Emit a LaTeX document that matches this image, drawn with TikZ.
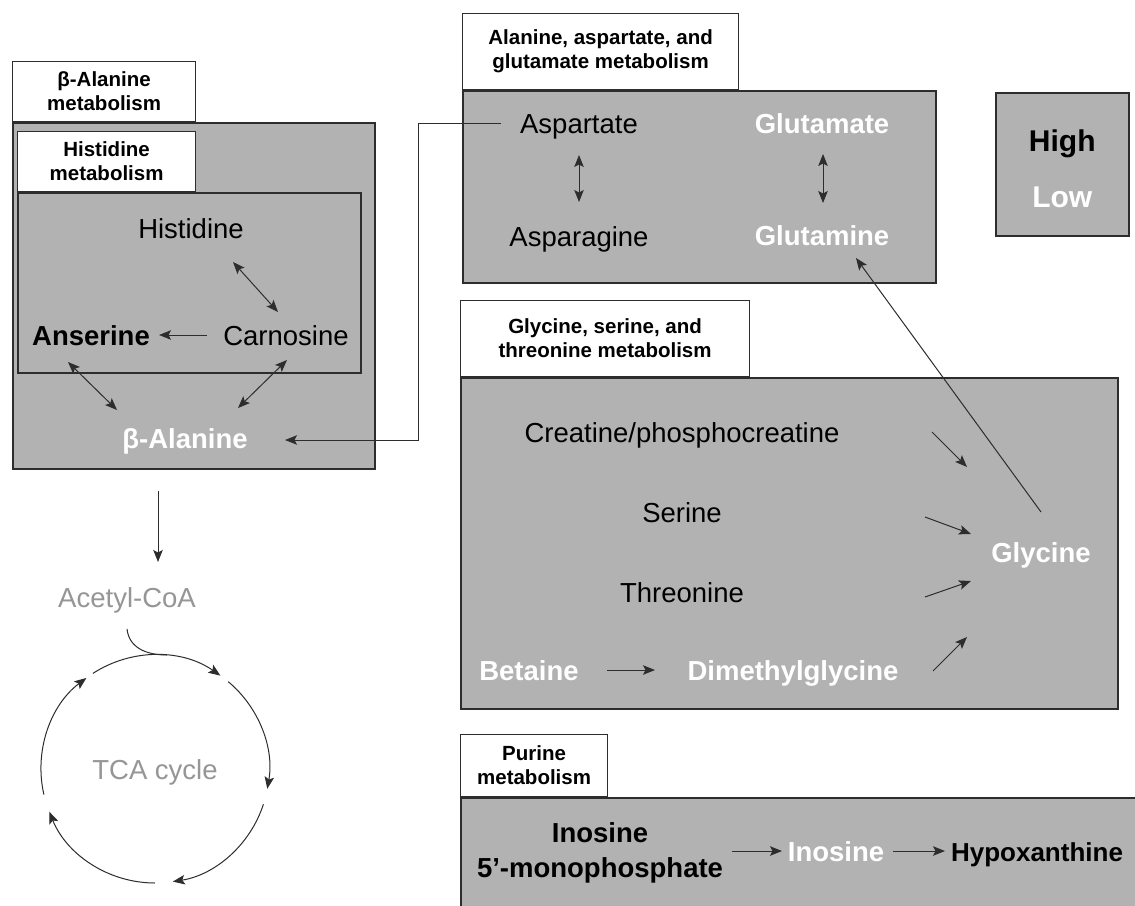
\documentclass[tikz,border=0pt]{standalone}
\usepackage{fontspec}
\setmainfont{Liberation Sans}
\usetikzlibrary{arrows.meta,positioning,calc}

\definecolor{panelgray}{RGB}{178,178,178}
\definecolor{fadegray}{RGB}{150,150,150}
\definecolor{linegray}{RGB}{45,45,45}

\begin{document}
\begin{tikzpicture}[x=1pt, y=-1pt, node distance = 80pt]

\tikzstyle{panel} = [rectangle, draw=linegray, line width=1.5pt, fill=panelgray, inner sep=0pt, anchor=north west]
\tikzstyle{tag} = [rectangle, draw=linegray, line width=1.2pt, fill=white, inner sep=0pt, anchor=south west, align=center, font=\bfseries\fontsize{20.5}{24.5}\selectfont]
\tikzstyle{met} = [inner sep=0pt, text height=20pt, text depth=0pt, font=\fontsize{27.5}{32}\selectfont]
\tikzstyle{upreg} = [met, font=\bfseries\fontsize{27.5}{32}\selectfont]
\tikzstyle{downreg} = [upreg, text=white]
\tikzstyle{faded} = [met, text=fadegray]
\tikzstyle{keytxt} = [inner sep=0pt, text height=22pt, text depth=0pt, font=\bfseries\fontsize{30}{34}\selectfont]
\tikzstyle{arrow} = [line width=1pt, draw=linegray, -{Stealth[length=12pt, width=9.5pt, inset=2.5pt]}]
\tikzstyle{twoway} = [arrow, {Stealth[length=12pt, width=9.5pt, inset=2.5pt]}-{Stealth[length=12pt, width=9.5pt, inset=2.5pt]}]

\fill [white] (0,0) rectangle (1135,905);
\useasboundingbox (0,0) rectangle (1135,905);

%% ------------------------------
%% -- BETA-ALANINE METABOLISM --
%% ------------------------------

\node (bala_panel) [panel, minimum width=362, minimum height=346] at (12,122) {};
\node (bala_tag) [tag, minimum width=183, minimum height=60] at (bala_panel.north west) {β-Alanine\\metabolism};

% Histidine metabolism
\node (his_panel) [panel, minimum width=343, minimum height=180] at (17,192) {};
\node (his_tag) [tag, minimum width=178, minimum height=60] at (his_panel.north west) {Histidine\\metabolism};

\node (histidine) [met] at (191,228) {Histidine};
\node (carnosine) [met] at (286,335) {Carnosine};
\node (anserine) [upreg, left of=carnosine, xshift=-115pt] {Anserine};
\node (bala) [downreg] at (185,438) {β-Alanine};

\draw [twoway] ($(histidine)+(42,34)$) -- ($(carnosine)+(-8,-23)$);
\draw [arrow] ($(carnosine)+(-79,0)$) -- ($(anserine)+(68,0)$);
\draw [twoway] ($(anserine)+(-23,27)$) -- ($(bala)+(-68,-28)$);
\draw [twoway] ($(carnosine)+(1,25)$) -- ($(bala)+(53,-30)$);

% TCA cycle
\node (acetyl) [faded] at (127,597) {Acetyl-CoA};
\node (tca) [faded] at (155,769) {TCA cycle};

\draw [arrow] ($(bala_panel.south west)+(146,21)$) -- ($(acetyl)+(31,-35)$);
\draw [line width=1pt, draw=linegray] ($(acetyl)+(0,32)$) .. controls +(2,18) and +(-22,0) .. ($(tca)+(12,-114)$);

\draw [arrow] ($(tca)+(-123:114)$) arc [start angle=-123, end angle=-55, radius=114];
\draw [arrow] ($(tca)+(-50:114)$) arc [start angle=-50, end angle=10, radius=114];
\draw [arrow] ($(tca)+(18:114)$) arc [start angle=18, end angle=81, radius=114];
\draw [arrow] ($(tca)+(90:114)$) arc [start angle=90, end angle=158, radius=114];
\draw [arrow] ($(tca)+(167:114)$) arc [start angle=167, end angle=233, radius=114];

%% ------------------------------------------
%% -- ALANINE, ASPARTATE, GLUTAMATE PANEL --
%% ------------------------------------------

\node (aag_panel) [panel, minimum width=473, minimum height=192] at (462,90) {};
\node (aag_tag) [tag, minimum width=276, minimum height=76] at (aag_panel.north west) {Alanine, aspartate, and\\glutamate metabolism};

\node (aspartate) [met] at (579,123) {Aspartate};
\node (glutamate) [downreg, right of=aspartate, xshift=163pt] {Glutamate};
\node (asparagine) [met, below of=aspartate, yshift=-33pt] {Asparagine};
\node (glutamine) [downreg, below of=glutamate, yshift=-32pt] {Glutamine};

\draw [twoway] ($(aspartate)+(0,32)$) -- ($(asparagine)+(0,-34)$);
\draw [twoway] ($(glutamate)+(1,31)$) -- ($(glutamine)+(1,-32)$);

\draw [arrow] ($(aspartate)+(-78,0)$) -- ++(-83,0) |- ($(bala)+(100,2)$);

% LEGEND
\node (legend) [panel, minimum width=133, minimum height=143] at (995,92) {};
\node (high) [keytxt] at ($(legend.center)+(0,-24)$) {High};
\node (low) [keytxt, text=white, below of=high, yshift=24pt] {Low};

%% ------------------------------------------
%% -- GLYCINE, SERINE, THREONINE PANEL --
%% ------------------------------------------

\node (gst_panel) [panel, minimum width=657, minimum height=331] at (460,377) {};
\node (gst_tag) [tag, minimum width=289, minimum height=76] at (gst_panel.north west) {Glycine, serine, and\\threonine metabolism};

\node (creatine) [met] at (682,432) {Creatine/phosphocreatine};
\node (serine) [met, below of=creatine] {Serine};
\node (threonine) [met, below of=serine] {Threonine};
\node (betaine) [downreg] at (529,670) {Betaine};
\node (dmg) [downreg, right of=betaine, xshift=184pt] {Dimethylglycine};
\node (glycine) [downreg] at (1041,552) {Glycine};

\draw [arrow] ($(betaine)+(78,0)$) -- ($(dmg)+(-138,0)$);
\draw [arrow] ($(creatine)+(250,0)$) -- ($(glycine)+(-74,-85)$);
\draw [arrow] ($(serine)+(243,5)$) -- ($(glycine)+(-70,-18)$);
\draw [arrow] ($(threonine)+(243,5)$) -- ($(glycine)+(-70,29)$);
\draw [arrow] ($(dmg)+(140,1)$) -- ($(glycine)+(-74,85)$);

\draw [arrow] ($(glycine)+(0,-40)$) -- ($(glutamine)+(34,23)$);

%% ----------------------
%% -- PURINE METABOLISM --
%% ----------------------

\node (pur_panel) [panel, minimum width=690, minimum height=120] at (460,797) {};
\node (pur_tag) [tag, minimum width=147, minimum height=62] at (pur_panel.north west) {Purine\\metabolism};

\node (imp) [align=center, inner sep=0pt, font=\bfseries\fontsize{27.5}{35}\selectfont] at (600,853) {Inosine\\5’-monophosphate};
\node (inosine) [downreg] at (836,851) {Inosine};
\node (hypox) [upreg, font=\bfseries\fontsize{26}{30}\selectfont] at (1037,851) {Hypoxanthine};

\draw [arrow] ($(imp)+(132,-2)$) -- ($(inosine)+(-54,0)$);
\draw [arrow] ($(inosine)+(57,0)$) -- ($(hypox)+(-92,0)$);

\end{tikzpicture}
\end{document}
